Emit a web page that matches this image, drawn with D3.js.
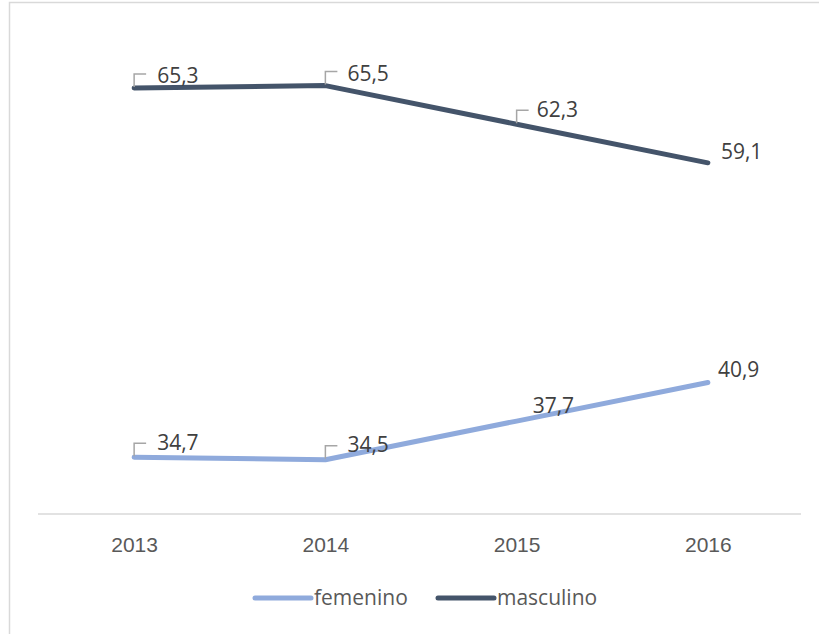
<!DOCTYPE html>
<html>
<head>
<meta charset="utf-8">
<script src="https://cdn.jsdelivr.net/npm/d3@7"></script>
<style>
  body { margin: 0; background: #fff; }
  svg { font-family: "Open Sans", sans-serif; }
</style>
</head>
<body>
<div id="chart"></div>
<script>
const years = ["2013", "2014", "2015", "2016"];
const femenino = [34.7, 34.5, 37.7, 40.9];
const masculino = [65.3, 65.5, 62.3, 59.1];
const seriesNames = ["femenino", "masculino"];

// label placement (offset from point, and whether Excel drew a leader bracket)
const femeninoLabels = [
  {dx: 23, dy: -7, leader: true},
  {dx: 22, dy: -8, leader: true},
  {dx: 16, dy: -8, leader: false},
  {dx: 10, dy: -5, leader: false}
];
const masculinoLabels = [
  {dx: 23, dy: -5, leader: true},
  {dx: 22, dy: -5, leader: true},
  {dx: 20, dy: -7, leader: true},
  {dx: 13, dy: -4, leader: false}
];

(function() {
  const width = 819, height = 634;
  const colors = {femenino: "#8FAADC", masculino: "#44546A"};

  const svg = d3.select("#chart").append("svg")
    .attr("width", width)
    .attr("height", height);

  // chart frame
  svg.append("rect")
    .attr("x", 9.5).attr("y", 2.5)
    .attr("width", 830).attr("height", 660)
    .attr("fill", "none")
    .attr("stroke", "#D9D9D9")
    .attr("stroke-width", 1.5);

  const x = d3.scalePoint()
    .domain(years)
    .range([38.5, 803.5])
    .padding(0.5);

  const y = d3.scaleLinear()
    .domain([30, 70])
    .range([514, 31.3]);

  // x axis
  const xAxis = svg.append("g")
    .attr("transform", `translate(0,${y(30)})`)
    .call(d3.axisBottom(x).tickSize(0).tickPadding(23));
  xAxis.select(".domain")
    .attr("d", "M38,0H801")
    .attr("stroke", "#D9D9D9")
    .attr("stroke-width", 1.5);
  xAxis.selectAll("text")
    .style("font-family", "inherit")
    .style("font-size", "21px")
    .attr("fill", "#595959");

  const line = d3.line()
    .x((d, i) => x(years[i]))
    .y(d => y(d));

  const series = [
    {name: "femenino", values: femenino, labels: femeninoLabels},
    {name: "masculino", values: masculino, labels: masculinoLabels}
  ];

  series.forEach(s => {
    svg.append("path")
      .datum(s.values)
      .attr("fill", "none")
      .attr("stroke", colors[s.name])
      .attr("stroke-width", 5)
      .attr("stroke-linecap", "round")
      .attr("stroke-linejoin", "round")
      .attr("d", line);

    const g = svg.append("g");
    s.values.forEach((v, i) => {
      const px = x(years[i]), py = y(v);
      const lab = s.labels[i];
      if (lab.leader) {
        g.append("path")
          .attr("d", `M${px},${py - 1}V${py - 14}H${px + 12}`)
          .attr("fill", "none")
          .attr("stroke", "#A6A6A6")
          .attr("stroke-width", 1.5);
      }
      g.append("text")
        .attr("x", px + lab.dx)
        .attr("y", py + lab.dy)
        .attr("fill", "#404040")
        .style("font-size", "21px")
        .text(d3.format(".1f")(v).replace(".", ","));
    });
  });

  // legend
  const legendX = [255, 438];
  const legend = svg.append("g").attr("transform", "translate(0,598)");
  seriesNames.forEach((name, i) => {
    legend.append("line")
      .attr("x1", legendX[i]).attr("x2", legendX[i] + 56)
      .attr("y1", 0).attr("y2", 0)
      .attr("stroke", colors[name])
      .attr("stroke-width", 5)
      .attr("stroke-linecap", "round");
    legend.append("text")
      .attr("x", legendX[i] + 59)
      .attr("y", 7)
      .attr("fill", "#595959")
      .style("font-size", "21px")
      .text(name);
  });
})();
</script>
</body>
</html>
